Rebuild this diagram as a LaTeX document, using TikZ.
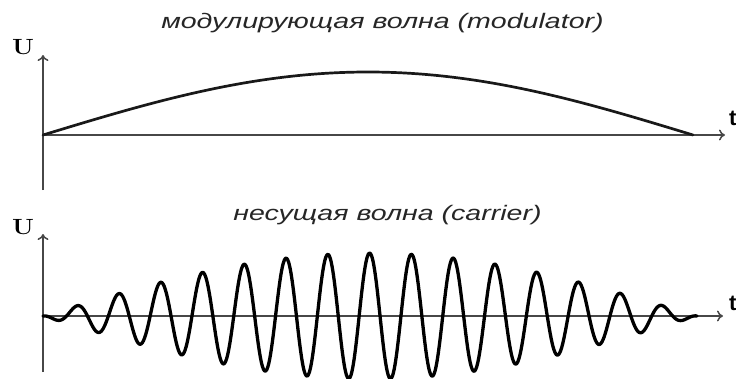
\documentclass[tikz,border=0pt]{standalone}
\usepackage{fontspec}
\usepackage{graphicx}
\setsansfont{Liberation Sans}
\usetikzlibrary{arrows.meta}
\tikzset{
  axis/.style={draw=black!72, line width=1.5pt, -{To[length=6pt,width=11pt,line width=1.5pt]}},
  wave/.style={draw=black, line width=3.3pt, line join=round, line cap=round},
  modwave/.style={draw=black!90, line width=2.7pt, line cap=round},
  title/.style={anchor=base, text=black!85, font=\fontsize{21}{21}\selectfont\sffamily\itshape, inner sep=0pt},
  ulabel/.style={font=\fontsize{22}{22}\selectfont\bfseries, inner sep=0pt},
  tlabel/.style={font=\fontsize{22}{22}\selectfont\sffamily\bfseries, inner sep=0pt, anchor=west}
}
\begin{document}
\begin{tikzpicture}[x=1pt,y=-1pt]
\useasboundingbox (0,0) rectangle (736,378);
% top panel
\coordinate (o1) at (43,135);
\coordinate (ytop1) at (43,55);
\coordinate (ybot1) at (43,190);
\coordinate (xend1) at (725,135);
\node[title] (title1) at (382.5,28) {\scalebox{1.36}[1]{модулирующая волна (modulator)}};
\node[ulabel] (u1) at (23,47) {\scalebox{1.15}[1]{U}};
\node[tlabel] (t1) at (729,118) {t};
\draw[axis] (ybot1) -- (ytop1);
\draw[axis] (o1) -- (xend1);
\draw[modwave] plot[domain=43:693, samples=200, smooth] (\x,{135-63*sin((\x-43)/650*180)});
% bottom panel
\coordinate (o2) at (43,316);
\coordinate (ytop2) at (43,234);
\coordinate (ybot2) at (43,372);
\coordinate (xend2) at (723,316);
\node[title] (title2) at (387.5,220) {\scalebox{1.36}[1]{несущая волна (carrier)}};
\node[ulabel] (u2) at (23,227) {\scalebox{1.15}[1]{U}};
\node[tlabel] (t2) at (729,303) {t};
\draw[axis] (ybot2) -- (ytop2);
\draw[axis] (o2) -- (xend2);
\draw[wave] plot[domain=43:697, samples=600, smooth] (\x,{316-63*sin((\x-43)/654*180)*cos((\x-77)/41.8*360)});
\end{tikzpicture}
\end{document}
